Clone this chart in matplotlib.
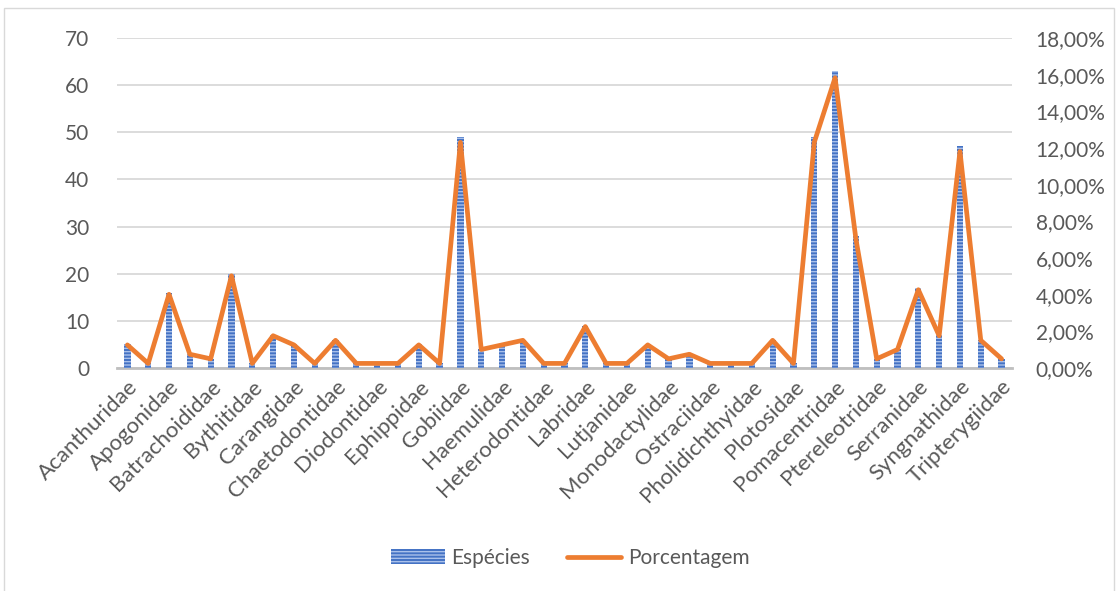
import matplotlib
matplotlib.use("Agg")
import matplotlib.pyplot as plt
import matplotlib.patches as mpatches
import matplotlib.lines as mlines
import numpy as np

categories = ["Acanthuridae", "Antennariidae", "Apogonidae", "Aulostomidae", "Batrachoididae",
              "Blenniidae", "Bythitidae", "Caesionidae", "Carangidae", "Centriscidae",
              "Chaetodontidae", "Cirrhitidae", "Diodontidae", "Echeneidae", "Ephippidae",
              "Fistulariidae", "Gobiidae", "Grammistidae", "Haemulidae", "Hemiramphidae",
              "Heterodontidae", "Holocentridae", "Labridae", "Lethrinidae", "Lutjanidae",
              "Monacanthidae", "Monodactylidae", "Mullidae", "Ostraciidae", "Pempheridae",
              "Pholidichthyidae", "Plesiopidae", "Plotosidae", "Pomacanthidae", "Pomacentridae",
              "Pseudochromidae", "Ptereleotridae", "Scaridae", "Serranidae", "Siganidae",
              "Syngnathidae", "Tetraodontidae", "Tripterygiidae"]
especies = [5, 1, 16, 3, 2, 20, 1, 7, 5, 1, 6, 1, 1, 1, 5, 1, 49, 4, 5, 6, 1, 1, 9, 1, 1,
            5, 2, 3, 1, 1, 1, 6, 1, 49, 63, 28, 2, 4, 17, 7, 47, 6, 2]
porcentagem = [1.26, 0.25, 4.02, 0.75, 0.50, 5.03, 0.25, 1.76, 1.26, 0.25, 1.51, 0.25, 0.25,
               0.25, 1.26, 0.25, 12.31, 1.01, 1.26, 1.51, 0.25, 0.25, 2.26, 0.25, 0.25, 1.26,
               0.50, 0.75, 0.25, 0.25, 0.25, 1.51, 0.25, 12.31, 15.83, 7.04, 0.50, 1.01, 4.27,
               1.76, 11.81, 1.51, 0.50]
left_ticks = [0, 10, 20, 30, 40, 50, 60, 70]
right_ticks = [0, 2, 4, 6, 8, 10, 12, 14, 16, 18]

FONT = ["Lato", "DejaVu Sans"]
plt.rcParams['font.family'] = FONT
plt.rcParams['hatch.linewidth'] = 1.0
TXT = "#595959"
BLUE = "#4472C4"
ORANGE = "#ED7D31"
FS = 15

fig = plt.figure(figsize=(11.18, 5.91), dpi=100)
ax = fig.add_axes([117/1118, 1-368/591, (1012-117)/1118, (368-38)/591])
x = np.arange(len(categories))

ax.bar(x, especies, width=0.3, color=BLUE, edgecolor="#A9C0EA", linewidth=0,
       hatch="-----", zorder=2)
ax.set_xlim(-0.5, len(categories)-0.5)
ax.set_ylim(0, 70)
ax.set_yticks(left_ticks)
ax.set_yticklabels([str(t) for t in left_ticks])
ax.yaxis.grid(True, color="#D9D9D9", linewidth=1.3, zorder=0)
ax.set_axisbelow(True)
for s in ["top", "right", "left"]:
    ax.spines[s].set_visible(False)
ax.spines["bottom"].set_color("#BFBFBF")
ax.spines["bottom"].set_linewidth(2.0)
ax.spines["bottom"].set_zorder(1)
ax.tick_params(axis="both", length=0, labelsize=FS, labelcolor=TXT)
ax.tick_params(axis="y", pad=20)
ax.set_xticks(x[::2])
ax.set_xticklabels(categories[::2], rotation=45, ha="right", rotation_mode="anchor",
                   fontsize=16)
ax.tick_params(axis="x", pad=6)

ax2 = ax.twinx()
ax2.plot(x, porcentagem, color=ORANGE, linewidth=3.4, solid_joinstyle="round",
         solid_capstyle="round", zorder=3)
ax2.set_ylim(0, 18)
ax2.set_yticks(right_ticks)
ax2.set_yticklabels([f"{t},00%" for t in right_ticks])
ax2.tick_params(axis="y", length=0, labelsize=FS, labelcolor=TXT, pad=17)
for s in ["top", "right", "left", "bottom"]:
    ax2.spines[s].set_visible(False)

h1 = mpatches.Patch(facecolor=BLUE, edgecolor="#A9C0EA", linewidth=0, hatch="-----",
                    label="Espécies")
h2 = mlines.Line2D([], [], color=ORANGE, linewidth=3.4, solid_capstyle="round",
                   label="Porcentagem")
fig.legend(handles=[h1, h2], loc="center", bbox_to_anchor=(570/1118, 1-558/591), ncol=2,
           frameon=False, fontsize=FS, labelcolor=TXT, handlelength=2.6, columnspacing=1.8,
           handletextpad=0.3)

# chart area border
border = mpatches.Rectangle((4/1118, -0.01), 1-8/1118, 1-8/591+0.01, transform=fig.transFigure,
                            fill=False, edgecolor="#D9D9D9", linewidth=1.0)
fig.patches.append(border)

fig.savefig("out.png", dpi=100)
